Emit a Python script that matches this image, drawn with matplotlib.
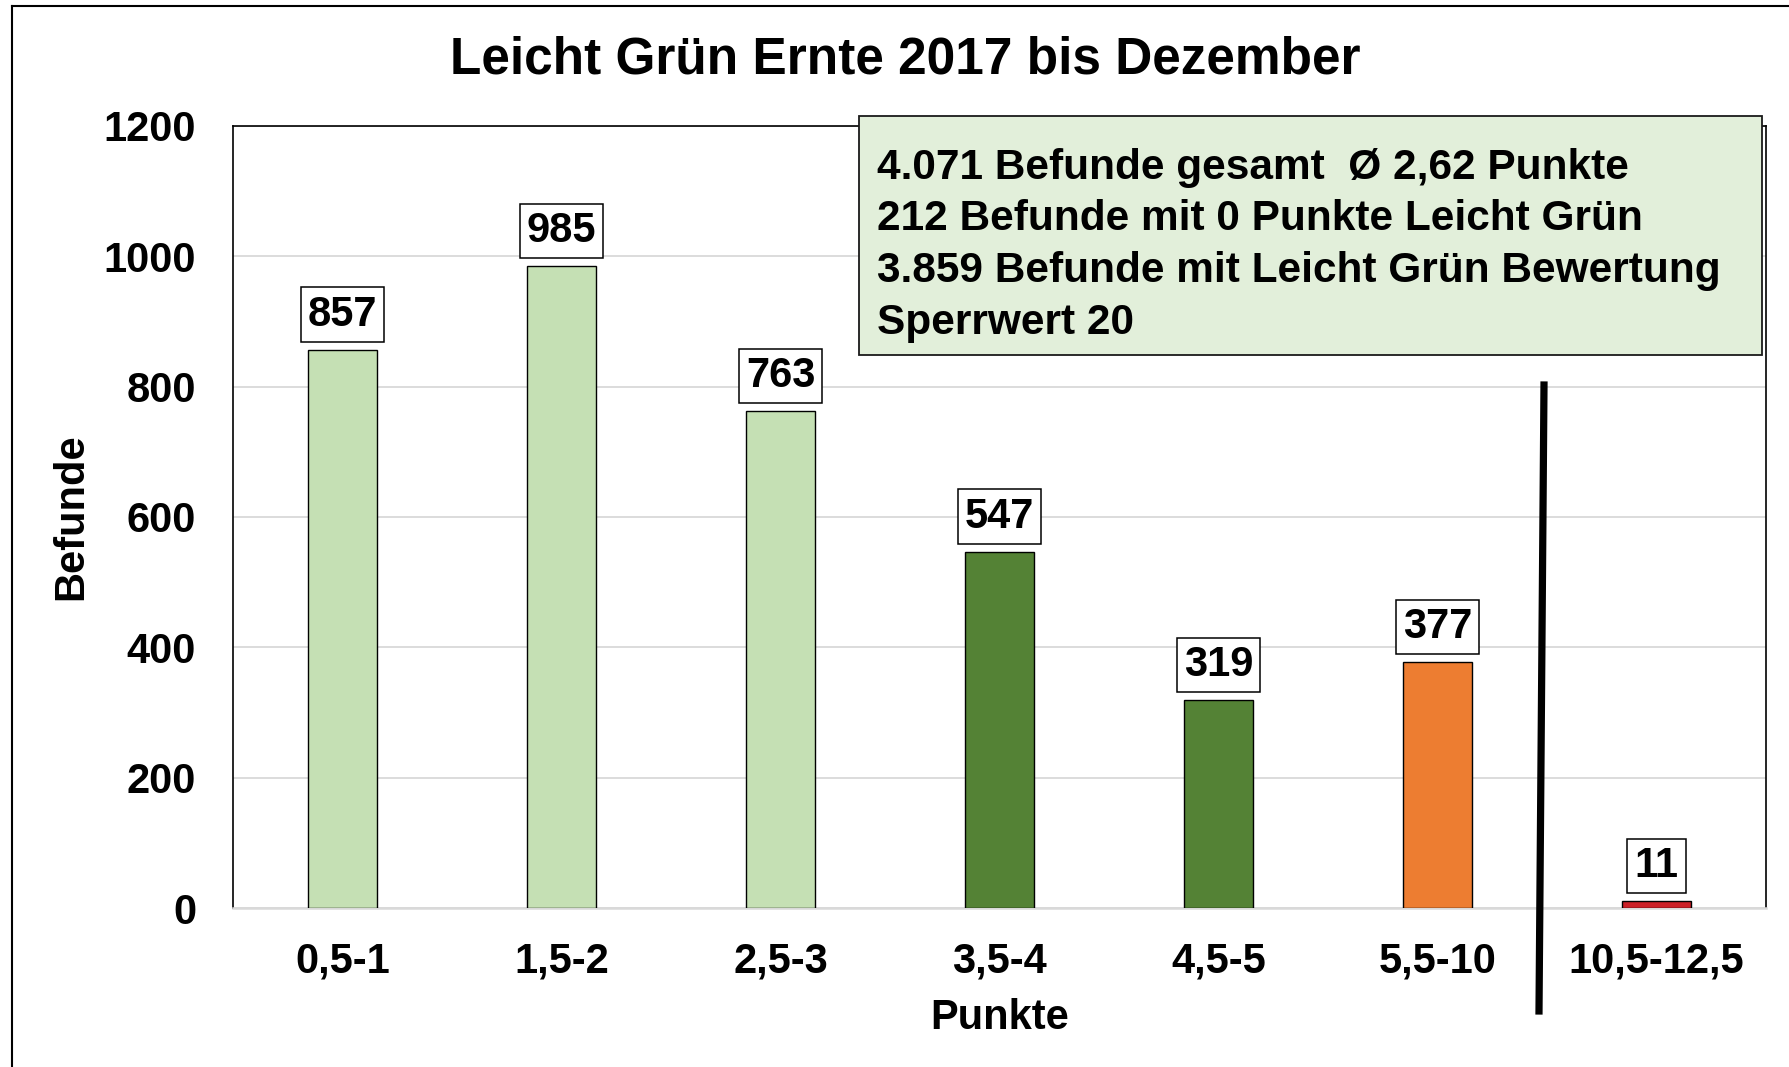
import matplotlib
matplotlib.use("Agg")
import matplotlib.pyplot as plt
from matplotlib.patches import Rectangle
from matplotlib.lines import Line2D

plt.rcParams['font.family'] = ['Liberation Sans', 'DejaVu Sans']
plt.rcParams['font.weight'] = 'bold'

# ---- data ----
categories = ["0,5-1", "1,5-2", "2,5-3", "3,5-4", "4,5-5", "5,5-10", "10,5-12,5"]
befunde = [857, 985, 763, 547, 319, 377, 11]
bar_colors = ["#C5E0B4", "#C5E0B4", "#C5E0B4", "#548235", "#548235", "#ED7D31", "#CC2027"]
y_ticks = [0, 200, 400, 600, 800, 1000, 1200]
title = "Leicht Grün Ernte 2017 bis Dezember"
info_lines = [
    "4.071 Befunde gesamt  Ø 2,62 Punkte",
    "212 Befunde mit 0 Punkte Leicht Grün",
    "3.859 Befunde mit Leicht Grün Bewertung",
    "Sperrwert 20",
]

W, H = 1789, 1067
fig = plt.figure(figsize=(W / 100, H / 100), dpi=100)

def px(x0, y0, x1, y1):
    return [x0 / W, 1 - y1 / H, (x1 - x0) / W, (y1 - y0) / H]

ax = fig.add_axes(px(233, 126, 1766, 908))

x = list(range(len(categories)))
ax.bar(x, befunde, width=0.315, color=bar_colors, edgecolor="black", linewidth=1.0, zorder=3)

for xi, v in zip(x, befunde):
    ax.annotate(str(v), (xi, v), xytext=(0, 35), textcoords="offset pixels",
                ha="center", va="center", fontsize=30, fontweight="bold",
                bbox=dict(boxstyle="square,pad=0.17", fc="white", ec="black", lw=1.1),
                zorder=4)

ax.set_xlim(-0.5, len(categories) - 0.5)
ax.set_ylim(0, 1200)
ax.set_yticks(y_ticks)
ax.set_xticks(x)
ax.set_xticklabels(categories)
ax.tick_params(axis="both", length=0, labelsize=30)
ax.tick_params(axis="y", pad=26.6)
ax.tick_params(axis="x", pad=24)
for lab in ax.get_xticklabels() + ax.get_yticklabels():
    lab.set_fontweight("bold")

ax.yaxis.grid(True, color="#D9D9D9", linewidth=1.3, zorder=0)
ax.set_axisbelow(True)
for s in ["left", "top", "right"]:
    ax.spines[s].set_color("black")
    ax.spines[s].set_linewidth(1.2)
ax.spines["bottom"].set_color("#D9D9D9")
ax.spines["bottom"].set_linewidth(1.8)

ax.set_xlabel("Punkte", fontsize=30, fontweight="bold", va="center")
ax.xaxis.set_label_coords(0.5, -0.1413)
ax.set_ylabel("Befunde", fontsize=30, fontweight="bold", va="center")
ax.yaxis.set_label_coords(-0.1057, 0.501)

fig.text(905 / W, 1 - 60 / H, title, ha="center", va="center", fontsize=37, fontweight="bold")

# info box
bx = px(859, 116, 1762, 355)
fig.patches.append(Rectangle((bx[0], bx[1]), bx[2], bx[3], transform=fig.transFigure,
                             facecolor="#E2EFDA", edgecolor="#1a1a1a", linewidth=1.3, zorder=5))
for i, line in enumerate(info_lines):
    fig.text(877 / W, 1 - (168 + 51.5 * i) / H, line, ha="left", va="center",
             fontsize=30.5, fontweight="bold", zorder=6)

# separator stroke
fig.lines.append(Line2D([1544 / W, 1539 / W], [1 - 385 / H, 1 - 1011 / H],
                        transform=fig.transFigure, color="black", linewidth=5.2, zorder=6))

# figure frame (left and top visible)
fig.lines.append(Line2D([11.5 / W, 11.5 / W], [0, 1 - 6 / H], transform=fig.transFigure,
                        color="black", linewidth=1.5, zorder=6))
fig.lines.append(Line2D([11.5 / W, 1], [1 - 6 / H, 1 - 6 / H], transform=fig.transFigure,
                        color="black", linewidth=1.5, zorder=6))

fig.savefig("out.png", dpi=100)
